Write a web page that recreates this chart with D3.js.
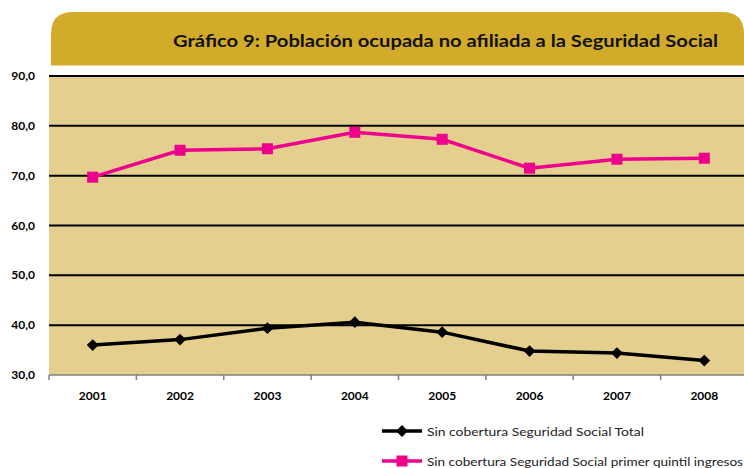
<!DOCTYPE html>
<html>
<head>
<meta charset="utf-8">
<script src="https://cdn.jsdelivr.net/npm/d3@7"></script>
<style>
    body { margin: 0; background: #fff; }
    svg text { font-family: Lato, "Noto Sans", sans-serif; }
</style>
</head>
<body>
<div id="chart-area"></div>
<script>
// data
var years = ["2001", "2002", "2003", "2004", "2005", "2006", "2007", "2008"];
var totalValues = [36.0, 37.1, 39.4, 40.6, 38.6, 34.8, 34.4, 32.9];
var quintilValues = [69.7, 75.1, 75.4, 78.7, 77.3, 71.5, 73.3, 73.5];
var yTicks = [30, 40, 50, 60, 70, 80, 90];
var seriesNames = ["Sin cobertura Seguridad Social Total",
    "Sin cobertura Seguridad Social primer quintil ingresos"];
var chartTitle = "Gráfico 9: Población ocupada no afiliada a la Seguridad Social";

LineChart = function(_parentElement) {
    this.parentElement = _parentElement;
    this.initVis();
}

LineChart.prototype.initVis = function() {
    var vis = this;

    vis.width = 744;
    vis.height = 468;
    vis.plot = {left: 49, right: 744, top: 76, bottom: 375};

    vis.svg = d3.select("#" + vis.parentElement).append("svg")
        .attr("width", vis.width)
        .attr("height", vis.height);

    // gold title band, rounded on top
    var bx = 51, by = 12, bw = 744 - 51, bh = 53.5, r = 22;
    vis.svg.append("path")
        .attr("d", "M" + bx + "," + (by + bh) +
            "V" + (by + r) +
            "Q" + bx + "," + by + " " + (bx + r) + "," + by +
            "H" + (bx + bw - r) +
            "Q" + (bx + bw) + "," + by + " " + (bx + bw) + "," + (by + r) +
            "V" + (by + bh) + "Z")
        .attr("fill", "#d3ab2a");

    vis.svg.append("text")
        .attr("x", 718)
        .attr("y", 47)
        .attr("text-anchor", "end")
        .attr("textLength", 545)
        .attr("lengthAdjust", "spacingAndGlyphs")
        .style("font-size", "17px")
        .style("font-weight", "bold")
        .attr("fill", "#111")
        .text(chartTitle);

    vis.svg.append("rect")
        .attr("x", vis.plot.left)
        .attr("y", vis.plot.top)
        .attr("width", vis.plot.right - vis.plot.left)
        .attr("height", vis.plot.bottom - vis.plot.top)
        .attr("fill", "#e4cf8e");

    vis.x = d3.scaleBand()
        .domain(years)
        .range([49, 748]);

    vis.y = d3.scaleLinear()
        .domain([30, 90])
        .range([vis.plot.bottom, vis.plot.top]);

    vis.updateVis();
}

LineChart.prototype.updateVis = function() {
    var vis = this;

    // gridlines (the 30 line is the grey axis)
    vis.svg.selectAll(".grid")
        .data(yTicks.filter(function(d) { return d > 30; }))
        .enter().append("line")
        .attr("class", "grid")
        .attr("x1", vis.plot.left)
        .attr("x2", vis.plot.right)
        .attr("y1", function(d) { return vis.y(d); })
        .attr("y2", function(d) { return vis.y(d); })
        .attr("stroke", "#000")
        .attr("stroke-width", 2);

    vis.svg.selectAll(".ylabel")
        .data(yTicks)
        .enter().append("text")
        .attr("class", "ylabel")
        .attr("x", 35)
        .attr("y", function(d) { return vis.y(d) + 4; })
        .attr("text-anchor", "end")
        .style("font-size", "12px")
        .style("font-weight", "bold")
        .text(function(d) { return d3.format(".1f")(d).replace(".", ","); });

    // x axis: grey line with ticks at band edges
    var axis = vis.svg.append("g");
    axis.append("line")
        .attr("x1", vis.plot.left)
        .attr("x2", vis.plot.right)
        .attr("y1", vis.y(30))
        .attr("y2", vis.y(30))
        .attr("stroke", "#808080")
        .attr("stroke-width", 1.5);
    axis.selectAll(".tick")
        .data(years)
        .enter().append("line")
        .attr("class", "tick")
        .attr("x1", function(d) { return vis.x(d); })
        .attr("x2", function(d) { return vis.x(d); })
        .attr("y1", vis.y(30))
        .attr("y2", vis.y(30) + 5)
        .attr("stroke", "#808080")
        .attr("stroke-width", 1.5);
    axis.selectAll(".xlabel")
        .data(years)
        .enter().append("text")
        .attr("class", "xlabel")
        .attr("x", function(d) { return vis.x(d) + vis.x.bandwidth() / 2; })
        .attr("y", 400)
        .attr("text-anchor", "middle")
        .style("font-size", "12px")
        .style("font-weight", "bold")
        .text(function(d) { return d; });

    var line = d3.line()
        .x(function(d, i) { return vis.x(years[i]) + vis.x.bandwidth() / 2; })
        .y(function(d) { return vis.y(d); });

    var series = [
        {values: quintilValues, color: "#ec008c", symbol: d3.symbol().type(d3.symbolSquare).size(121), rotate: 0},
        {values: totalValues, color: "#000", symbol: d3.symbol().type(d3.symbolSquare).size(70), rotate: 45}
    ];

    series.forEach(function(s) {
        vis.svg.append("path")
            .attr("d", line(s.values))
            .attr("fill", "none")
            .attr("stroke", s.color)
            .attr("stroke-width", 3.5);

        vis.svg.selectAll(null)
            .data(s.values)
            .enter().append("path")
            .attr("d", s.symbol)
            .attr("transform", function(d, i) {
                return "translate(" + (vis.x(years[i]) + vis.x.bandwidth() / 2) + "," + vis.y(d) + ") rotate(" + s.rotate + ")";
            })
            .attr("fill", s.color);
    });

    // legend (second entry sits at the bottom edge, as in the original)
    var legend = [
        {name: seriesNames[0], color: "#000", symbol: series[1].symbol, rotate: 45, y: 431, len: 217},
        {name: seriesNames[1], color: "#ec008c", symbol: series[0].symbol, rotate: 0, y: 461, len: 316}
    ];
    var lg = vis.svg.selectAll(".legend")
        .data(legend)
        .enter().append("g")
        .attr("class", "legend")
        .attr("transform", function(d) { return "translate(0," + d.y + ")"; });
    lg.append("line")
        .attr("x1", 382).attr("x2", 422)
        .attr("stroke", function(d) { return d.color; })
        .attr("stroke-width", 3.5);
    lg.append("path")
        .attr("d", function(d) { return d.symbol(); })
        .attr("transform", function(d) { return "translate(402,0) rotate(" + d.rotate + ")"; })
        .attr("fill", function(d) { return d.color; });
    lg.append("text")
        .attr("x", 427)
        .attr("y", 4.5)
        .attr("textLength", function(d) { return d.len; })
        .attr("lengthAdjust", "spacingAndGlyphs")
        .style("font-size", "12px")
        .attr("fill", "#222")
        .text(function(d) { return d.name; });
}

var chart = new LineChart("chart-area");
</script>
</body>
</html>
